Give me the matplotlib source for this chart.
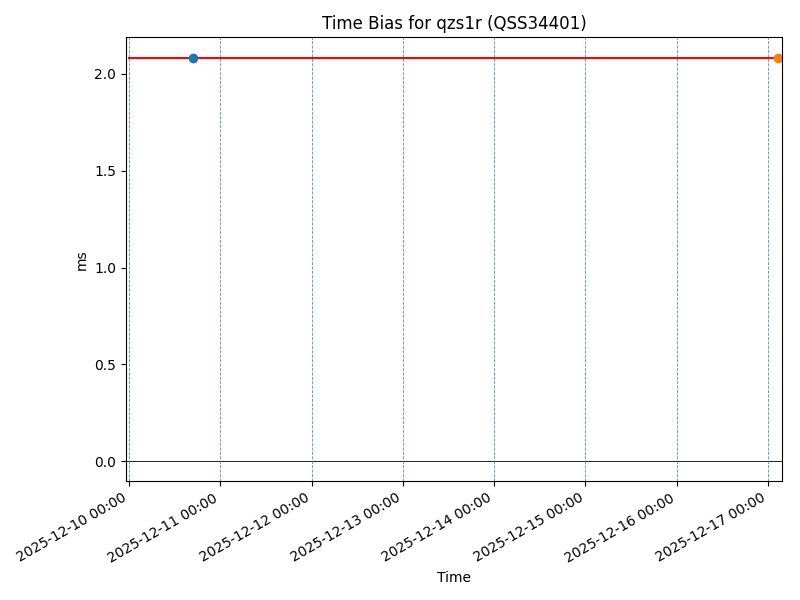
import matplotlib
matplotlib.use("Agg")
import matplotlib.pyplot as plt
import matplotlib.dates as mdates
from datetime import datetime

# time bias series (ms)
times = [datetime(2025, 12, 10, 0, 0), datetime(2025, 12, 17, 2, 40)]
bias_ms = [2.083, 2.083]

# highlighted points
first_pt_time = datetime(2025, 12, 10, 16, 50)
first_pt_val = 2.083
last_pt_time = datetime(2025, 12, 17, 2, 40)
last_pt_val = 2.083

day_marks = [datetime(2025, 12, d) for d in range(10, 18)]

fig, ax = plt.subplots(figsize=(8, 6), dpi=100)

ax.plot(times, bias_ms, color="red", linewidth=1.5)
ax.plot([first_pt_time], [first_pt_val], "o", color="C0")
ax.plot([last_pt_time], [last_pt_val], "o", color="C1")
ax.axhline(0, color="black", linewidth=0.6)
for d in day_marks:
    ax.axvline(d, color="C0", linestyle="--", linewidth=0.6, alpha=0.8)

ax.set_xlim(datetime(2025, 12, 9, 23, 12), datetime(2025, 12, 17, 3, 40))
ax.set_ylim(-0.103, 2.19)
ax.xaxis.set_major_locator(mdates.DayLocator())
ax.xaxis.set_major_formatter(mdates.DateFormatter("%Y-%m-%d %H:%M"))
ax.set_title("Time Bias for qzs1r (QSS34401)")
ax.set_xlabel("Time")
ax.set_ylabel("ms")
fig.autofmt_xdate()
fig.subplots_adjust(left=0.1575, right=0.9775, top=0.938, bottom=0.198)
fig.savefig("out.png")
